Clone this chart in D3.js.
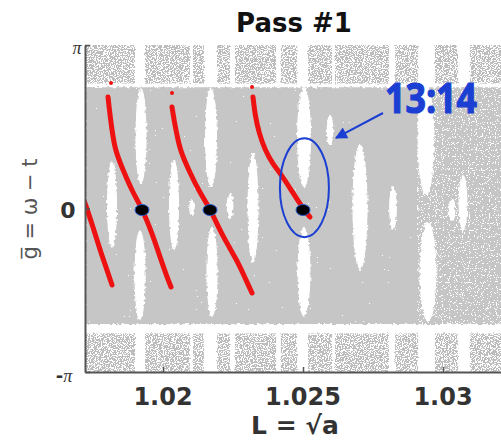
<!DOCTYPE html>
<html>
<head>
<meta charset="utf-8">
<script src="https://cdn.jsdelivr.net/npm/d3@7"></script>
<style>
html, body { margin: 0; padding: 0; background: #fff; }
svg { display: block; }
</style>
</head>
<body>
<svg id="chart" width="501" height="442"></svg>
<script>
const PI = Math.PI;

// Gray stripes of the chaotic sea, as [L start, L end]
const columns = [
  [1.01725, 1.01900], [1.01936, 1.02096], [1.02107, 1.02146], [1.02193, 1.02239],
  [1.02257, 1.02404], [1.02421, 1.02479], [1.02518, 1.02604], [1.02614, 1.02807],
  [1.02829, 1.02911], [1.02971, 1.03054], [1.03096, 1.03240]
];
// Past this L the sea is thinner everywhere
const thinFrom = 1.02911;
// Phase extent of the dense middle layer and the sparse outer layers
const denseBand = [-2.22, 2.33];
const topBand = [2.40, PI];
const bottomBand = [-PI, -2.40];

// Empty islands inside the sea: [L, phase, half-width in L, half-height in phase]
const islands = [
  [1.019214, 1.393, 0.000200, 0.922],
  [1.018179, 0.067, 0.000180, 0.826],
  [1.019179, -1.278, 0.000200, 0.865],
  [1.020393, 0.067, 0.000180, 0.865],
  [1.021714, 1.355, 0.000215, 0.961],
  [1.021750, -1.220, 0.000200, 0.865],
  [1.022393, 0.048, 0.000120, 0.250],
  [1.021036, 0.010, 0.000100, 0.154],
  [1.023214, 0.010, 0.000195, 1.057],
  [1.025036, 1.374, 0.000250, 0.961],
  [1.025036, -1.220, 0.000230, 0.865],
  [1.025964, 1.508, 0.000120, 0.288],
  [1.027036, 0.029, 0.000270, 1.211],
  [1.028214, 0.010, 0.000140, 0.423],
  [1.029393, 1.316, 0.000300, 1.057],
  [1.029464, -1.220, 0.000300, 0.961],
  [1.030321, -0.029, 0.000120, 0.231],
  [1.030714, 0.106, 0.000160, 0.538]
];

// Red resonant orbits: L values and phase values
const orbitL = [
  [1.017150, 1.017214, 1.017500, 1.017750, 1.018000, 1.018179],
  [1.018036, 1.018107, 1.018179, 1.018286, 1.018571, 1.018929, 1.019250, 1.019607, 1.019893, 1.020143, 1.020286],
  [1.020321, 1.020393, 1.020500, 1.020607, 1.020964, 1.021321, 1.021679, 1.022143, 1.022643, 1.022964, 1.023179],
  [1.023214, 1.023286, 1.023429, 1.023643, 1.023893, 1.024286, 1.024643, 1.025000, 1.025250]
];
const orbitPhase = [
  [0.200, 0.106, -0.355, -0.797, -1.182, -1.470],
  [2.142, 1.797, 1.508, 1.124, 0.740, 0.298, 0.000, -0.471, -0.932, -1.316, -1.508],
  [1.950, 1.701, 1.412, 1.124, 0.682, 0.298, 0.000, -0.548, -0.990, -1.374, -1.624],
  [2.142, 1.797, 1.451, 1.124, 0.874, 0.605, 0.298, 0.000, -0.163]
];
// Stray orbit points above the curves
const strayL = [1.018143, 1.020321, 1.023179];
const strayPhase = [2.411, 2.219, 2.335];

// Fixed points of the resonance
const fixedL = [1.019250, 1.021679, 1.025000];
const fixedPhase = [0, 0, 0];

// Axis ticks
const xTicks = [1.02, 1.025, 1.03];
const xTickLabels = ["1.02", "1.025", "1.03"];
const yTicks = [-PI, 0, PI];

// Highlighted resonance
const resLabel = "13:14";
const resCenter = [1.02505, 0.40];
const resRadius = [0.000875, 0.951];
const arrowFrom = [1.027857, 1.835];
const arrowTo = [1.026179, 1.355];

const svg = d3.select("#chart");
const plot = { left: 85, top: 45, bottom: 372, right: 501 };

const x = d3.scaleLinear().domain([1.017214, 1.032071]).range([plot.left, plot.right]);
const y = d3.scaleLinear().domain([-PI, PI]).range([plot.bottom, plot.top]);

const defs = svg.append("defs");
defs.append("clipPath").attr("id", "plotClip")
  .append("rect").attr("x", plot.left + 1).attr("y", plot.top)
  .attr("width", plot.right - plot.left).attr("height", plot.bottom - plot.top);

function threshold(t) {
  const n = 40, vals = [];
  for (let i = 0; i < n; i++) vals.push(i / n < t ? 0 : 1);
  return vals.join(" ");
}
function grainFilter(id, cut, warp, seed) {
  const f = defs.append("filter").attr("id", id)
    .attr("x", "-3%").attr("y", "-5%").attr("width", "106%").attr("height", "110%")
    .attr("color-interpolation-filters", "sRGB");
  let src = "SourceGraphic";
  if (warp > 0) {
    f.append("feTurbulence").attr("type", "fractalNoise").attr("baseFrequency", "0.3")
      .attr("numOctaves", 2).attr("seed", seed).attr("result", "warpNoise");
    f.append("feDisplacementMap").attr("in", "SourceGraphic").attr("in2", "warpNoise")
      .attr("scale", warp).attr("xChannelSelector", "R").attr("yChannelSelector", "G")
      .attr("result", "shaped");
    src = "shaped";
  }
  f.append("feTurbulence").attr("type", "fractalNoise").attr("baseFrequency", "0.85")
    .attr("numOctaves", 1).attr("seed", seed + 11).attr("result", "grain");
  f.append("feColorMatrix").attr("in", "grain").attr("type", "matrix")
    .attr("values", "0 0 0 0 0  0 0 0 0 0  0 0 0 0 0  1 0 0 0 0").attr("result", "grainA");
  f.append("feComponentTransfer").attr("in", "grainA").attr("result", "mask")
    .append("feFuncA").attr("type", "discrete").attr("tableValues", threshold(cut));
  f.append("feComposite").attr("in", src).attr("in2", "mask").attr("operator", "in");
}
grainFilter("denseGrain", 0.22, 4, 4);
grainFilter("thinGrain", 0.36, 4, 6);
grainFilter("sparseGrain", 0.47, 3, 9);

const sea = svg.append("g").attr("clip-path", "url(#plotClip)");
const gray = "#c6c6c6";
const seaEnd = columns[columns.length - 1][1];

// middle layer with its empty islands: dense on the left, thinner on the right
function middleLayer(filterId, l0, l1, keep) {
  const g = sea.append("g").attr("filter", `url(#${filterId})`);
  g.append("rect")
    .attr("x", x(l0)).attr("y", y(denseBand[1]))
    .attr("width", x(l1) - x(l0))
    .attr("height", y(denseBand[0]) - y(denseBand[1]))
    .attr("fill", gray);
  g.selectAll("ellipse").data(islands.filter(keep)).join("ellipse")
    .attr("cx", d => x(d[0])).attr("cy", d => y(d[1]))
    .attr("rx", d => x(d[0] + d[2]) - x(d[0]))
    .attr("ry", d => y(0) - y(d[3]))
    .attr("fill", "#fff");
}
middleLayer("denseGrain", columns[0][0], thinFrom, d => d[0] < thinFrom);
middleLayer("thinGrain", thinFrom, seaEnd, d => d[0] >= thinFrom);

// sparse outer layers, one stripe per column
const sparse = sea.append("g").attr("filter", "url(#sparseGrain)");
[topBand, bottomBand].forEach(band => {
  sparse.append("g").selectAll("rect").data(columns).join("rect")
    .attr("x", d => x(d[0])).attr("width", d => x(d[1]) - x(d[0]))
    .attr("y", y(band[1])).attr("height", y(band[0]) - y(band[1]))
    .attr("fill", "#bdbdbd");
});

// red orbits
const line = d3.line().x(d => x(d[0])).y(d => y(d[1])).curve(d3.curveBasis);
const orbits = orbitL.map((ls, i) => ls.map((l, j) => [l, orbitPhase[i][j]]));
sea.append("g").selectAll("path").data(orbits).join("path")
  .attr("d", line).attr("fill", "none").attr("stroke", "#ee1111")
  .attr("stroke-width", 5).attr("stroke-linecap", "round");
sea.append("g").selectAll("circle").data(strayL.map((l, i) => [l, strayPhase[i]])).join("circle")
  .attr("cx", d => x(d[0])).attr("cy", d => y(d[1])).attr("r", 2)
  .attr("fill", "#ee1111");

// fixed points
svg.append("g").selectAll("ellipse").data(fixedL.map((l, i) => [l, fixedPhase[i]])).join("ellipse")
  .attr("cx", d => x(d[0])).attr("cy", d => y(d[1]) + 1.5)
  .attr("rx", 7).attr("ry", 5.5).attr("fill", "#000")
  .attr("stroke", "#2a5bd0").attr("stroke-width", 1);

// axes
const axisColor = "#555";
const xAxis = svg.append("g").attr("transform", `translate(0,${plot.bottom})`)
  .call(d3.axisBottom(x).tickValues(xTicks).tickSize(-5).tickSizeOuter(0).tickFormat(""));
const yAxis = svg.append("g").attr("transform", `translate(${plot.left},0)`)
  .call(d3.axisLeft(y).tickValues(yTicks).tickSize(-5).tickSizeOuter(0).tickFormat(""));
[xAxis, yAxis].forEach(a => {
  a.select(".domain").attr("stroke", axisColor).attr("stroke-width", 2);
  a.selectAll(".tick line").attr("stroke", axisColor).attr("stroke-width", 1.5);
});

svg.append("g").selectAll("text").data(xTicks).join("text")
  .attr("x", d => x(d)).attr("y", 405).attr("text-anchor", "middle")
  .attr("font-family", "DejaVu Sans").attr("font-weight", "bold").attr("font-size", 24)
  .attr("fill", "#333").text((d, i) => xTickLabels[i]);

// y tick labels
svg.append("text").attr("x", 77).attr("y", y(PI) + 9)
  .attr("text-anchor", "middle").attr("font-family", "Liberation Serif").attr("font-style", "italic")
  .attr("font-size", 18).attr("fill", "#333").text("π");
svg.append("text").attr("x", 68).attr("y", y(0) + 9.5)
  .attr("text-anchor", "middle").attr("font-family", "DejaVu Sans").attr("font-weight", "bold")
  .attr("font-size", 22).attr("fill", "#333").text("0");
const negPi = svg.append("text").attr("x", 64).attr("y", y(-PI) + 10)
  .attr("text-anchor", "middle").attr("fill", "#333");
negPi.append("tspan").attr("font-family", "DejaVu Sans").attr("font-weight", "bold").attr("font-size", 18).text("-");
negPi.append("tspan").attr("font-family", "Liberation Serif").attr("font-style", "italic").attr("font-size", 18).text("π");

// titles
svg.append("text").attr("x", 294).attr("y", 32).attr("text-anchor", "middle")
  .attr("font-family", "DejaVu Sans").attr("font-weight", "bold").attr("font-size", 26)
  .attr("fill", "#111").text("Pass #1");
svg.append("text").attr("x", 295).attr("y", 434).attr("text-anchor", "middle")
  .attr("font-family", "DejaVu Sans").attr("font-weight", "bold").attr("font-size", 25)
  .attr("fill", "#333").text("L = √a");
svg.append("text").attr("transform", "translate(37,209) rotate(-90)").attr("text-anchor", "middle")
  .attr("font-family", "DejaVu Sans").attr("font-size", 21).attr("fill", "#555")
  .text("g\u0305 = ω − t");

// resonance highlight
const blue = "#1b3fd2";
svg.append("ellipse")
  .attr("cx", x(resCenter[0])).attr("cy", y(resCenter[1]))
  .attr("rx", x(resCenter[0] + resRadius[0]) - x(resCenter[0]))
  .attr("ry", y(0) - y(resRadius[1]))
  .attr("fill", "none").attr("stroke", blue).attr("stroke-width", 2);

defs.append("marker").attr("id", "head").attr("viewBox", "0 0 10 10")
  .attr("refX", 9).attr("refY", 5).attr("markerWidth", 7).attr("markerHeight", 6)
  .attr("markerUnits", "strokeWidth").attr("orient", "auto")
  .append("path").attr("d", "M0,0 L10,5 L0,10 Z").attr("fill", blue);
svg.append("line")
  .attr("x1", x(arrowFrom[0])).attr("y1", y(arrowFrom[1]))
  .attr("x2", x(arrowTo[0])).attr("y2", y(arrowTo[1]))
  .attr("stroke", blue).attr("stroke-width", 2).attr("marker-end", "url(#head)");
svg.append("text").attr("x", x(arrowFrom[0]) + 2).attr("y", y(arrowFrom[1]))
  .attr("font-family", "Open Sans").attr("font-weight", "bold").attr("font-size", 41)
  .attr("textLength", 92).attr("lengthAdjust", "spacingAndGlyphs")
  .attr("stroke", blue).attr("stroke-width", 1.2)
  .attr("fill", blue).text(resLabel);
</script>
</body>
</html>
